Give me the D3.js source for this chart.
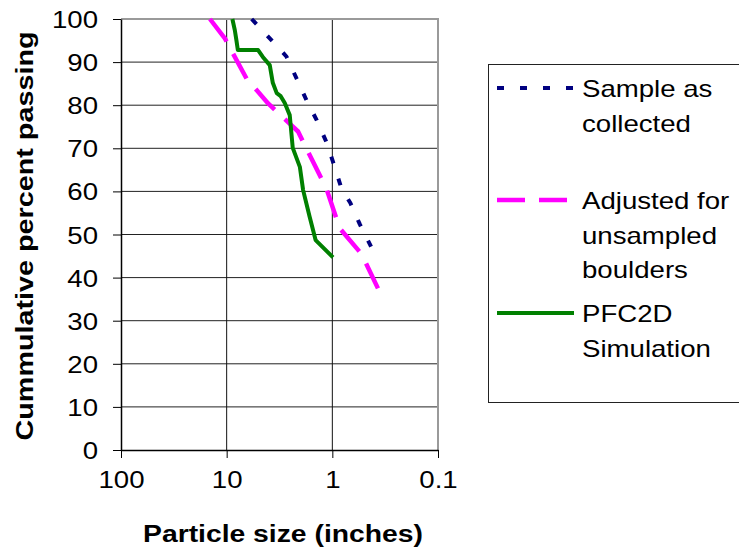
<!DOCTYPE html>
<html>
<head>
<meta charset="utf-8">
<script src="https://cdn.jsdelivr.net/npm/d3@7"></script>
<style>
  body { margin: 0; background: #fff; }
  svg { display: block; font-family: "Liberation Sans", Arial, sans-serif; }
</style>
</head>
<body>
<svg id="chart" width="739" height="556"></svg>
<script>
// data
var sampleSize = [5.8, 3.77, 2.72, 2.18, 1.76, 1.41, 1.14, 0.95, 0.82, 0.675, 0.55, 0.43];
var samplePass = [100, 95.1, 91.3, 86.2, 81.2, 76.6, 71.5, 65.7, 60.7, 57.3, 52.4, 47.2];

var adjustedSize = [14.4, 10.4, 6.49, 4.05, 2.11, 1.47, 1.14, 0.85, 0.53, 0.37];
var adjustedPass = [100, 95.5, 86.2, 80.4, 73.9, 66.1, 60.7, 51.4, 45.5, 37.5];

var pfcSize = [8.83, 8.37, 8.09, 7.84, 5.04, 4.55, 3.91, 3.66, 3.36, 3.08, 2.82, 2.53, 2.37, 2.03, 1.89, 1.64, 1.44, 0.985];
var pfcPass = [100, 97.4, 95.1, 92.8, 92.8, 91.2, 89.3, 85.2, 82.8, 82.1, 80.5, 77.7, 70.1, 65.7, 60.3, 54.1, 48.7, 44.7];

var xTicks = [100, 10, 1, 0.1];
var yTicks = [0, 10, 20, 30, 40, 50, 60, 70, 80, 90, 100];

var seriesNames = [["Sample as", "collected"], ["Adjusted for", "unsampled", "boulders"], ["PFC2D", "Simulation"]];
var seriesColors = ["#000080", "#ff00ff", "#008000"];
var seriesDash = ["7,16", "28,14", null];
var seriesWidth = [4, 4.5, 4];

var series = [
  d3.zip(sampleSize, samplePass),
  d3.zip(adjustedSize, adjustedPass),
  d3.zip(pfcSize, pfcPass)
];

var svg = d3.select("#chart");
// plot box (window.top is taken, hence the names)
var plotLeft = 121, plotRight = 438, plotTop = 19, plotBottom = 450;

var x = d3.scaleLog().domain([100, 0.1]).range([plotLeft, plotRight]);
var y = d3.scaleLinear().domain([0, 100]).range([plotBottom, plotTop]);

// the chart text looks horizontally stretched, so widen it a bit
function stretch(sel, k) {
  sel.each(function() {
    var w = this.getComputedTextLength();
    d3.select(this).attr("textLength", w * k).attr("lengthAdjust", "spacingAndGlyphs");
  });
}

// gridlines
svg.append("g").selectAll("line")
  .data(yTicks.filter(function(d) { return d > 0 && d < 100; }))
  .enter().append("line")
  .attr("x1", plotLeft).attr("x2", plotRight)
  .attr("y1", function(d) { return y(d); }).attr("y2", function(d) { return y(d); })
  .attr("stroke", "#222").attr("stroke-width", 1);

svg.append("g").selectAll("line")
  .data([10, 1])
  .enter().append("line")
  .attr("x1", function(d) { return x(d); }).attr("x2", function(d) { return x(d); })
  .attr("y1", plotTop).attr("y2", plotBottom)
  .attr("stroke", "#111").attr("stroke-width", 1);

// top + right frame (gray)
svg.append("path")
  .attr("d", "M" + plotLeft + "," + plotTop + "H" + plotRight + "V" + plotBottom)
  .attr("fill", "none").attr("stroke", "#9a9a9a").attr("stroke-width", 2);

// axes
var yAxis = svg.append("g")
  .attr("transform", "translate(" + plotLeft + ",0)")
  .call(d3.axisLeft(y).tickValues(yTicks).tickSize(8).tickSizeOuter(0).tickPadding(15).tickFormat(d3.format("d")));
yAxis.select(".domain").attr("stroke", "#000").attr("stroke-width", 1.5);
yAxis.selectAll(".tick line").attr("stroke", "#000");
yAxis.selectAll("text").attr("font-size", 23).attr("fill", "#000").attr("dy", 8.5).attr("font-family", null)
  .call(stretch, 1.2);

var xAxis = svg.append("g")
  .attr("transform", "translate(0," + plotBottom + ")")
  .call(d3.axisBottom(x).tickValues(xTicks).tickSize(8).tickSizeOuter(0).tickFormat(function(d) { return String(d); }));
xAxis.select(".domain").attr("stroke", "#000").attr("stroke-width", 1.5);
xAxis.selectAll(".tick line").attr("stroke", "#000");
xAxis.selectAll("text").attr("font-size", 23).attr("fill", "#000").attr("y", 38).attr("dy", 0).attr("font-family", null)
  .call(stretch, 1.2);

// axis titles
svg.append("text")
  .attr("x", 283).attr("y", 542)
  .attr("text-anchor", "middle")
  .attr("font-size", 23).attr("font-weight", "bold")
  .text("Particle size (inches)")
  .call(stretch, 1.23);

svg.append("text")
  .attr("transform", "translate(33,236) rotate(-90)")
  .attr("text-anchor", "middle")
  .attr("font-size", 23).attr("font-weight", "bold")
  .text("Cummulative percent passing")
  .call(stretch, 1.25);

// lines
var line = d3.line()
  .x(function(d) { return x(d[0]); })
  .y(function(d) { return y(d[1]); });

svg.append("g").selectAll("path")
  .data(series)
  .enter().append("path")
  .attr("d", line)
  .attr("fill", "none")
  .attr("stroke", function(d, i) { return seriesColors[i]; })
  .attr("stroke-width", function(d, i) { return seriesWidth[i]; })
  .attr("stroke-dasharray", function(d, i) { return seriesDash[i]; })
  .attr("stroke-linejoin", "round");

// legend
var legend = svg.append("g");
legend.append("rect")
  .attr("x", 488.5).attr("y", 64.5).attr("width", 300).attr("height", 338)
  .attr("fill", "#fff").attr("stroke", "#222").attr("stroke-width", 1);

var legendY = [88, 200, 313];
var item = legend.selectAll(".item")
  .data(seriesNames)
  .enter().append("g").attr("class", "item")
  .attr("transform", function(d, i) { return "translate(0," + legendY[i] + ")"; });

item.append("line")
  .attr("x1", 497).attr("x2", 574).attr("y1", 0).attr("y2", 0)
  .attr("stroke", function(d, i) { return seriesColors[i]; })
  .attr("stroke-width", function(d, i) { return seriesWidth[i]; })
  .attr("stroke-dasharray", function(d, i) { return seriesDash[i]; });

item.each(function(names) {
  var t = d3.select(this).append("text")
    .attr("x", 582).attr("y", 9)
    .attr("font-size", 24).attr("fill", "#000");
  names.forEach(function(n, j) {
    t.append("tspan").attr("x", 582).attr("dy", j === 0 ? 0 : 34.5).text(n);
  });
  t.selectAll("tspan").call(stretch, 1.15);
});
</script>
</body>
</html>
